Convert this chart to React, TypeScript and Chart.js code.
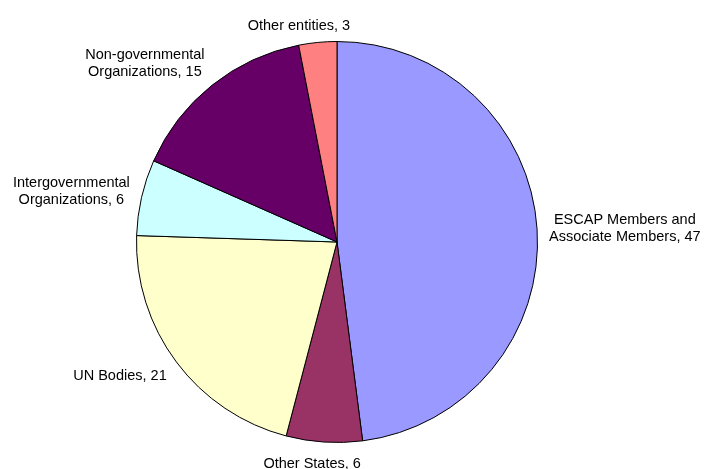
import React, { useEffect, useRef } from "react";
import { Chart, registerables } from "chart.js";

Chart.register(...registerables);

const categories: string[][] = [
  ["ESCAP Members and", "Associate Members"],
  ["Other States"],
  ["UN Bodies"],
  ["Intergovernmental", "Organizations"],
  ["Non-governmental", "Organizations"],
  ["Other entities"],
];
const values: number[] = [47, 6, 21, 6, 15, 3];
const colors: string[] = ["#9999FF", "#993366", "#FFFFCC", "#CCFFFF", "#660066", "#FF8080"];

const FONT = '14.5px "Liberation Sans", Arial, sans-serif';
const LINE_H = 17;

const labelPlugin = {
  id: "outsideLabels",
  afterDatasetsDraw(chart: any) {
    const ctx = chart.ctx as CanvasRenderingContext2D;
    const meta = chart.getDatasetMeta(0);
    ctx.save();
    ctx.font = FONT;
    ctx.fillStyle = "#000";
    ctx.textAlign = "center";
    ctx.textBaseline = "middle";
    meta.data.forEach((arc: any, i: number) => {
      const { x, y, startAngle, endAngle, outerRadius } = arc.getProps(
        ["x", "y", "startAngle", "endAngle", "outerRadius"],
        true
      );
      const mid = (startAngle + endAngle) / 2;
      const ux = Math.cos(mid);
      const uy = Math.sin(mid);
      const R = outerRadius + 12;
      const px = x + R * ux;
      const py = y + R * uy;
      const lines = categories[i].slice();
      lines[lines.length - 1] = lines[lines.length - 1] + ", " + values[i];
      const w = Math.max(...lines.map((l) => ctx.measureText(l).width));
      const halfW = w / 2;
      const halfH = (lines.length * LINE_H) / 2;
      const clamp = (v: number) => Math.max(-1, Math.min(1, v));
      const cx = px + clamp(3.6 * ux) * halfW;
      const cy = py + clamp(1.2 * uy) * halfH + 1 + 3 * Math.max(0, -uy);
      lines.forEach((l, j) => {
        ctx.fillText(l, cx, cy - halfH + LINE_H / 2 + j * LINE_H);
      });
    });
    ctx.restore();
  },
};

export default function App() {
  const ref = useRef<HTMLCanvasElement | null>(null);
  useEffect(() => {
    if (!ref.current) return;
    const chart = new Chart(ref.current, {
      type: "pie",
      data: {
        labels: categories.map((c) => c.join(" ")),
        datasets: [
          {
            data: values,
            backgroundColor: colors,
            borderColor: "#000000",
            borderWidth: 1,
          },
        ],
      },
      options: {
        responsive: false,
        animation: false,
        layout: { padding: { left: 136, right: 166, top: 41, bottom: 26 } },
        plugins: {
          legend: { display: false },
          tooltip: { enabled: false },
        },
      },
      plugins: [labelPlugin],
    });
    return () => chart.destroy();
  }, []);
  return (
    <div style={{ position: "absolute", left: 0, top: 0, width: 704, height: 469, background: "#fff" }}>
      <canvas ref={ref} width={704} height={469} style={{ display: "block" }} />
    </div>
  );
}
